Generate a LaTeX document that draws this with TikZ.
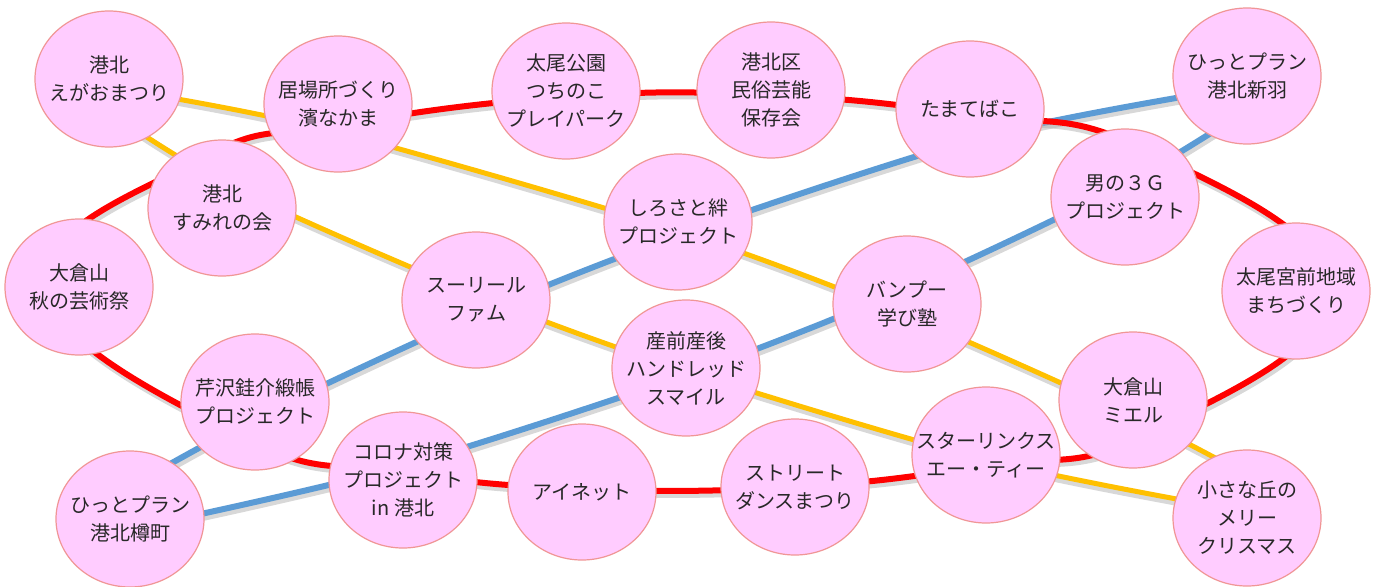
\documentclass[tikz,border=0pt]{standalone}
\usepackage{fontspec}
\setmainfont{Noto Sans CJK JP}
\usetikzlibrary{shapes.geometric,backgrounds,calc}
\definecolor{bubfill}{RGB}{255,204,255}
\definecolor{bubline}{RGB}{240,150,150}
\definecolor{lred}{RGB}{255,0,0}
\definecolor{lblue}{RGB}{91,155,213}
\definecolor{lyellow}{RGB}{255,192,0}
\definecolor{txt}{RGB}{40,40,40}
\tikzset{
  bub/.style={ellipse, minimum width=148pt, minimum height=136pt, inner sep=0pt,
    draw=bubline, line width=1.2pt, fill=bubfill,
    label={[align=center, text=txt, font=\fontsize{20}{28}\selectfont, inner sep=0pt]center:#1}},
  linkshadow/.style={draw=black!30, line width=8pt, opacity=0.5,
    transform canvas={shift={(1.5pt,-3pt)}}},
  linkred/.style={draw=lred, line width=6pt},
  linkblue/.style={draw=lblue, line width=6pt},
  linkyellow/.style={draw=lyellow, line width=5pt},
}
\begin{document}
\begin{tikzpicture}[x=1pt,y=-1pt]
\useasboundingbox (0,0) rectangle (1378,586);
\node[bub={港北\\えがおまつり}] (a1) at (109,79) {};
\node[bub={居場所づくり\\濱なかま}] (a2) at (338,104) {};
\node[bub={港北\\すみれの会}] (a3) at (222,208) {};
\node[bub={大倉山\\秋の芸術祭}] (a4) at (79,287) {};
\node[bub={太尾公園\\つちのこ\\プレイパーク}] (a5) at (566,91) {};
\node[bub={港北区\\民俗芸能\\保存会}] (a6) at (771,90) {};
\node[bub={しろさと絆\\プロジェクト}] (a7) at (678,222) {};
\node[bub={たまてばこ}] (a8) at (970,109) {};
\node[bub={ひっとプラン\\港北新羽}] (a9) at (1247,76) {};
\node[bub={男の３Ｇ\\プロジェクト}] (a10) at (1125,197) {};
\node[bub={太尾宮前地域\\まちづくり}] (a11) at (1296,291) {};
\node[bub={バンプー\\学び塾}] (a12) at (907,304) {};
\node[bub={大倉山\\ミエル}] (a13) at (1133,400) {};
\node[bub={スターリンクス\\エー・ティー}] (a14) at (986,455) {};
\node[bub={小さな丘の\\メリー\\クリスマス}] (a15) at (1247,518) {};
\node[bub={ストリート\\ダンスまつり}] (a16) at (795,487) {};
\node[bub={アイネット}] (a17) at (582,492) {};
\node[bub={産前産後\\ハンドレッド\\スマイル}] (a18) at (686,368) {};
\node[bub={スーリール\\ファム}] (a19) at (476,300) {};
\node[bub={芹沢銈介緞帳\\プロジェクト}] (a20) at (255,402) {};
\node[bub={コロナ対策\\プロジェクト\\in 港北}] (a21) at (403,480) {};
\node[bub={ひっとプラン\\港北樽町}] (a22) at (130,519) {};
% red loop waypoints
\coordinate (r4) at ([xshift=-34pt]a4.center);
\coordinate (r3) at ($(a3.154)!0.5!(a3.71)$);
\coordinate (r2) at ($(a2.208)!0.5!(a2.355)$);
\coordinate (r5) at ($(a5.187)!0.5!(a5.358)$);
\coordinate (r6) at ($(a6.182)!0.5!(a6.354)$);
\coordinate (r8) at ($(a8.177)!0.5!(a8.348)$);
\coordinate (r10) at ($(a10.116)!0.5!(a10.28)$);
\coordinate (r11) at ([xshift=34pt]a11.center);
\coordinate (r13) at ($(a13.348)!0.5!(a13.228)$);
\coordinate (r14) at ($(a14.358)!0.5!(a14.194)$);
\coordinate (r16) at ($(a16.2)!0.5!(a16.182)$);
\coordinate (r17) at ($(a17.0)!0.5!(a17.175)$);
\coordinate (r21) at ($(a21.358)!0.5!(a21.166)$);
\coordinate (r20) at ($(a20.312)!0.5!(a20.194)$);
% yellow waypoints
\coordinate (ya1) at ([shift={(22pt,-12pt)}]a1.center);
\coordinate (y2) at ($(a2.189)!0.5!(a2.325)$);
\coordinate (y7) at ($(a7.168)!0.5!(a7.335)$);
\coordinate (y12) at ($(a12.167)!0.5!(a12.330)$);
\coordinate (y13) at ($(a13.164)!0.5!(a13.321)$);
\coordinate (ya15) at ([shift={(-15pt,51pt)}]a15.center);
\coordinate (yb1) at ([shift={(3pt,-35pt)}]a1.center);
\coordinate (y3) at ($(a3.134)!0.5!(a3.351)$);
\coordinate (y19) at ($(a19.155)!0.5!(a19.343)$);
\coordinate (y18) at ($(a18.164)!0.5!(a18.340)$);
\coordinate (y14) at ($(a14.169)!0.5!(a14.342)$);
\coordinate (yb15) at ([shift={(-32pt,12pt)}]a15.center);
% blue waypoints
\coordinate (ba22) at ([shift={(10pt,38pt)}]a22.center);
\coordinate (b20) at ($(a20.218)!0.5!(a20.15)$);
\coordinate (b19) at ($(a19.214)!0.5!(a19.12)$);
\coordinate (b7) at ($(a7.210)!0.5!(a7.10)$);
\coordinate (b8) at ($(a8.222)!0.5!(a8.353)$);
\coordinate (ba9) at ([shift={(-30pt,-15pt)}]a9.center);
\coordinate (bb9) at ([shift={(0pt,-34pt)}]a9.center);
\coordinate (b10) at ($(a10.38)!0.5!(a10.200)$);
\coordinate (b12) at ($(a12.34)!0.5!(a12.191)$);
\coordinate (b18) at ($(a18.14)!0.5!(a18.204)$);
\coordinate (b21) at ($(a21.26)!0.5!(a21.185)$);
\coordinate (bb22) at ([shift={(20pt,-6pt)}]a22.center);
\begin{scope}[on background layer]
  \fill[white] (0,0) rectangle (1378,586);
  \foreach \sty in {linkshadow,linkyellow}{
    \path[\sty] plot[smooth] coordinates {(ya1) (y2) (y7) (y12) (y13) (ya15)};
    \path[\sty] plot[smooth] coordinates {(yb1) (y3) (y19) (y18) (y14) (yb15)};
  }
  \foreach \sty in {linkshadow,linkblue}{
    \path[\sty] plot[smooth] coordinates {(ba22) (b20) (b19) (b7) (b8) (ba9)};
    \path[\sty] plot[smooth] coordinates {(bb9) (b10) (b12) (b18) (b21) (bb22)};
  }
  \foreach \sty in {linkshadow,linkred}
    \path[\sty] plot[smooth cycle, tension=0.75] coordinates {(r4) (r3) (r2) (r5) (r6) (r8) (r10) (r11) (r13) (r14) (r16) (r17) (r21) (r20)};
\end{scope}
\end{tikzpicture}
\end{document}
